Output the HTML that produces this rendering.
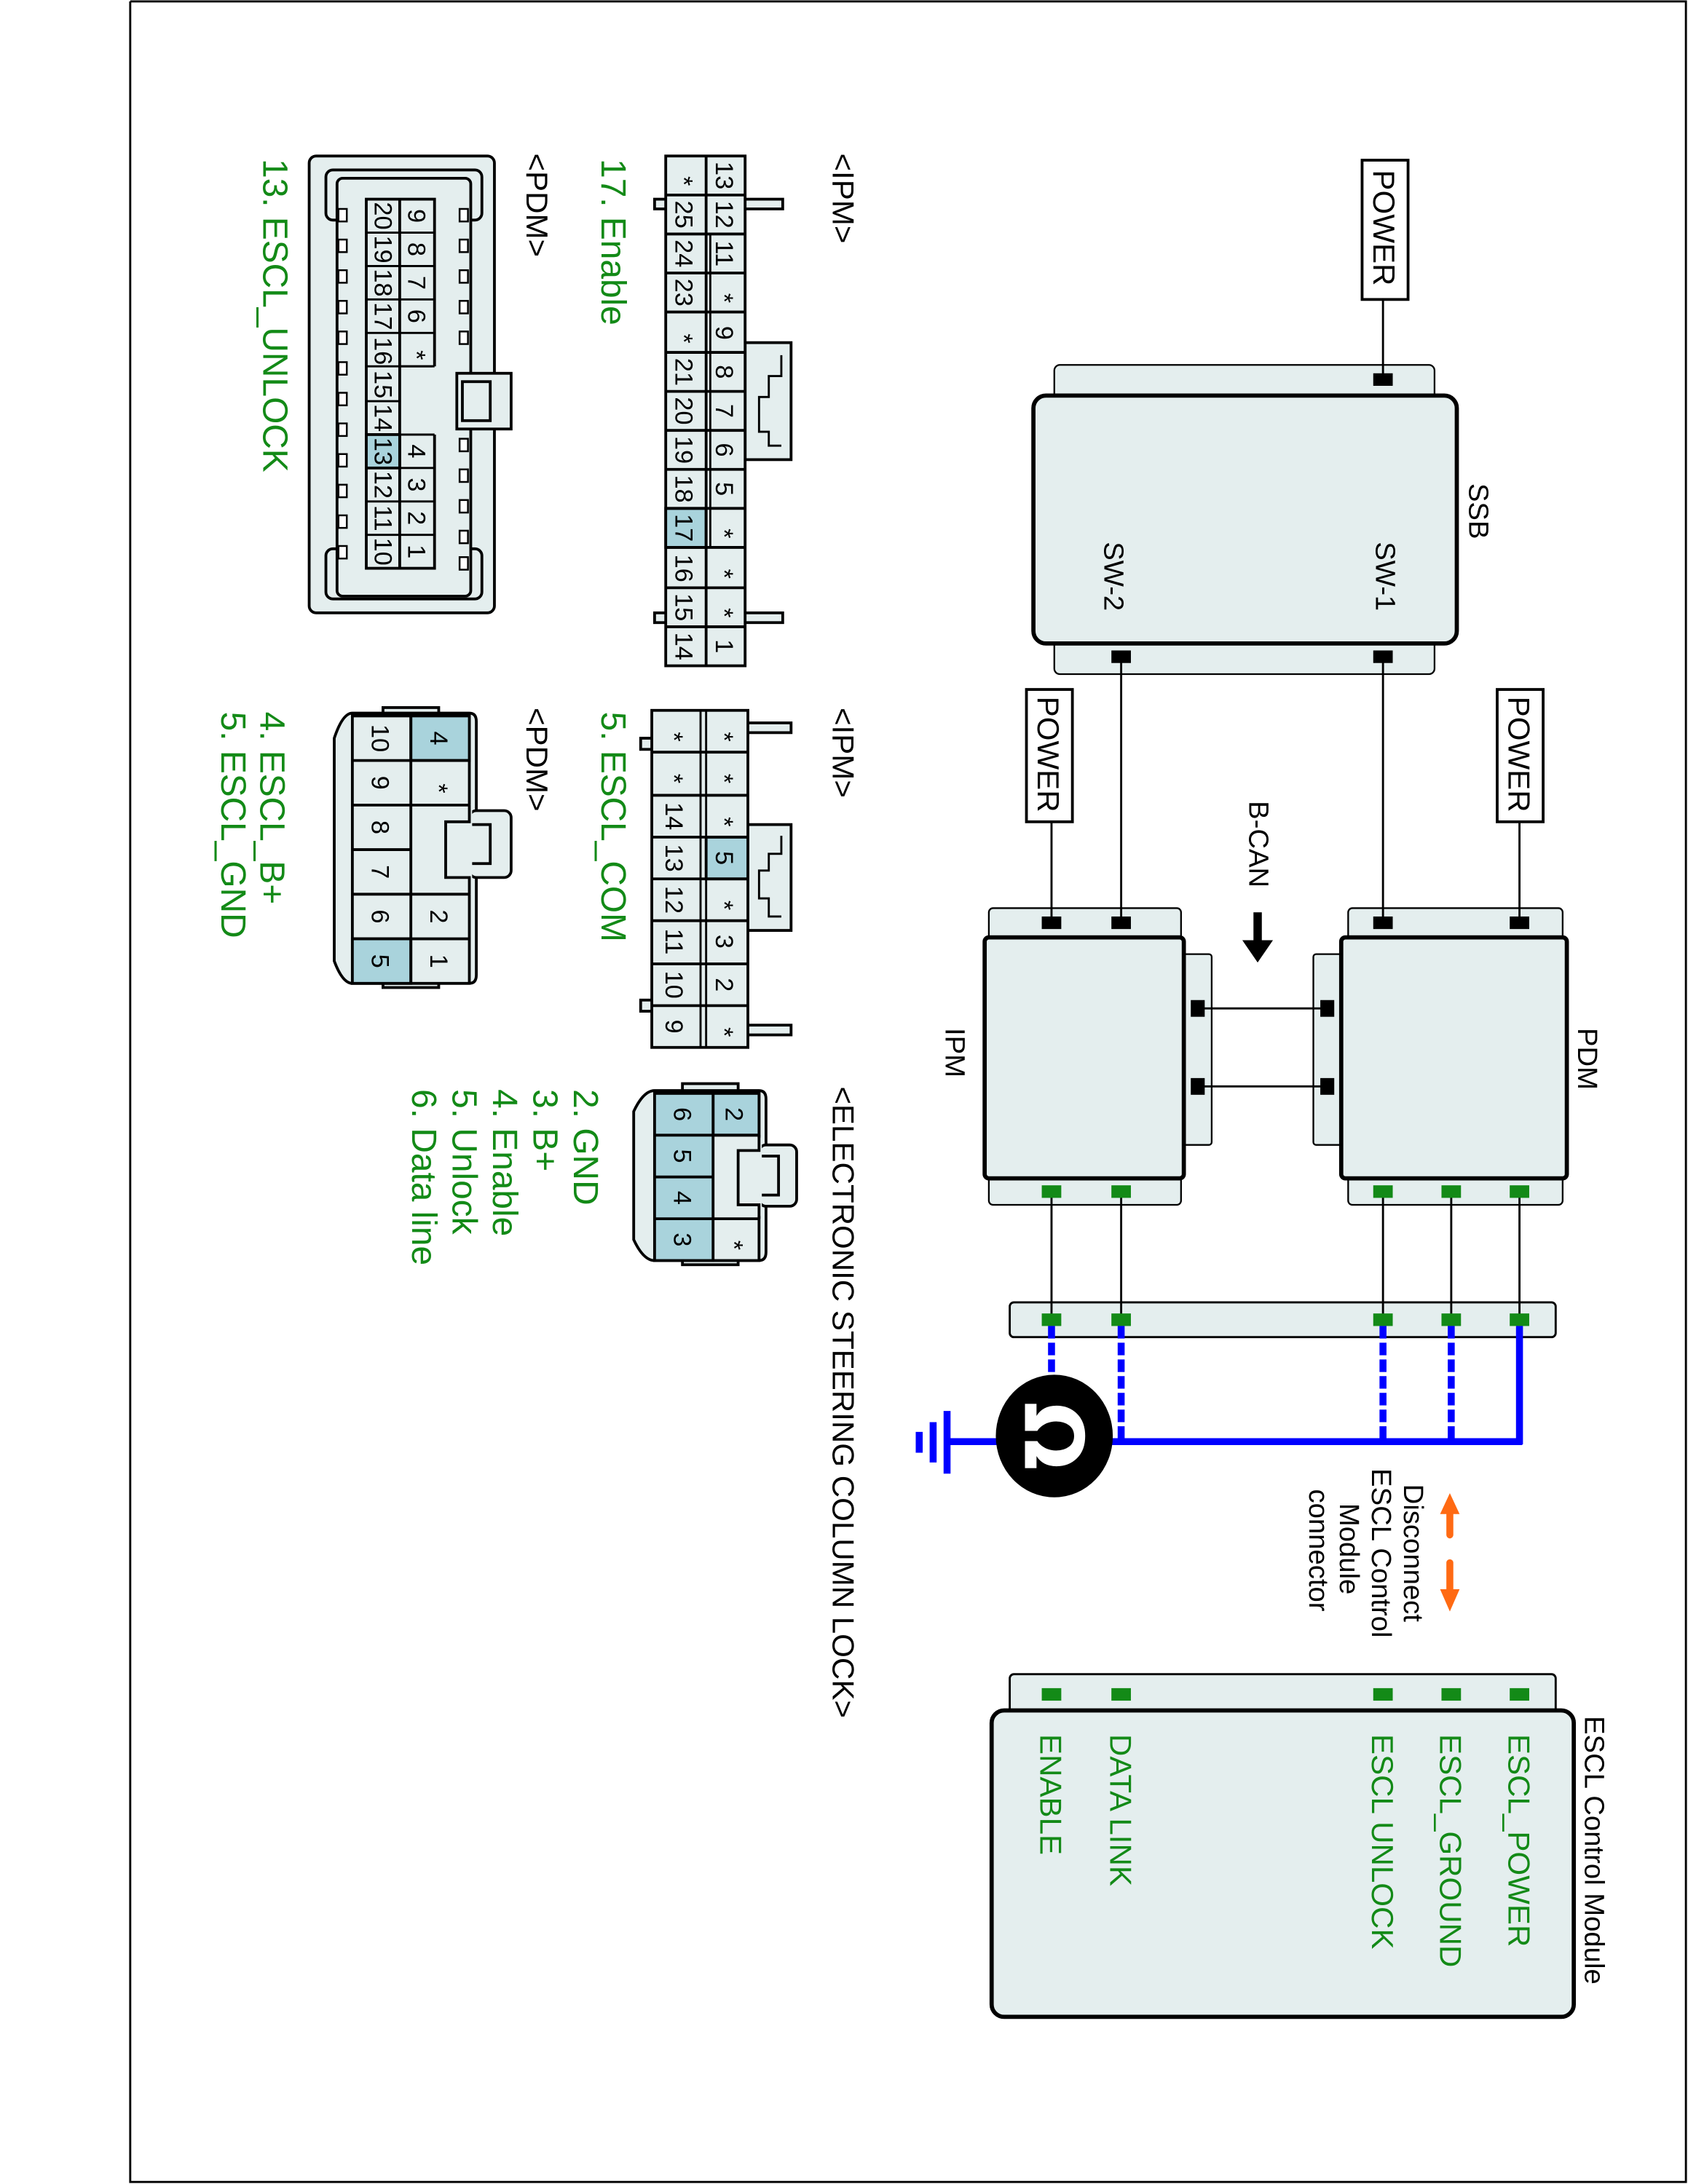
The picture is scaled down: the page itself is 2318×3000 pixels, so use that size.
<!DOCTYPE html>
<html><head><meta charset="utf-8">
<style>
html,body{margin:0;padding:0;background:#fff;}
svg{display:block;}
text{font-family:"Liberation Sans",Arial,sans-serif;}
.c{font-size:18px;fill:#000;text-anchor:middle;}
.g{fill:#138a17;font-size:25px;}
.k{fill:#000;font-size:22px;}
</style></head>
<body>
<svg width="2318" height="3000" viewBox="0 0 1212 1568" preserveAspectRatio="none" xmlns="http://www.w3.org/2000/svg">
<rect x="0" y="0" width="1212" height="1568" fill="#fff"/>
<path d="M93.5 1V1566.5H1210.5V1H93.5" fill="none" stroke="#000" stroke-width="1.5"/>

<g stroke="#000" fill="#e4eeee">
<rect x="757" y="262" width="273" height="222" rx="4" stroke-width="1.2"/>
<rect x="742" y="284" width="304" height="178" rx="9" stroke-width="3"/>
<rect x="968" y="652" width="154" height="213" rx="3" stroke-width="1.2"/>
<rect x="943" y="685" width="24" height="137" rx="2" stroke-width="1.2"/>
<rect x="963" y="673" width="162" height="173" rx="3" stroke-width="3"/>
<rect x="710" y="652" width="138" height="213" rx="3" stroke-width="1.2"/>
<rect x="846" y="685" width="24" height="137" rx="2" stroke-width="1.2"/>
<rect x="707" y="673" width="143" height="173" rx="3" stroke-width="3"/>
<rect x="725" y="935" width="392" height="25" rx="3" stroke-width="1.5"/>
<rect x="725" y="1202" width="392" height="30" rx="3" stroke-width="1.5"/>
<rect x="712" y="1228" width="418" height="220" rx="9" stroke-width="3"/>
</g>

<g stroke="#000" stroke-width="1.5" fill="none">
<line x1="993" y1="215" x2="993" y2="272"/>
<line x1="993" y1="471" x2="993" y2="662"/>
<line x1="805" y1="471" x2="805" y2="662"/>
<line x1="1091" y1="590" x2="1091" y2="662"/>
<line x1="755" y1="590" x2="755" y2="662"/>
<line x1="860" y1="724" x2="953" y2="724"/>
<line x1="860" y1="780" x2="953" y2="780"/>
<line x1="755" y1="855" x2="755" y2="947"/>
<line x1="805" y1="855" x2="805" y2="947"/>
<line x1="993" y1="855" x2="993" y2="947"/>
<line x1="1042" y1="855" x2="1042" y2="947"/>
<line x1="1091" y1="855" x2="1091" y2="947"/>
</g>
<g fill="#fff" stroke="#000" stroke-width="2">
<rect x="978" y="115" width="33" height="100"/>
<rect x="1075" y="495" width="33" height="95"/>
<rect x="737" y="495" width="33" height="95"/>
</g>
<g class="k" font-size="22">
<text transform="translate(986,122) rotate(90)">POWER</text>
<text transform="translate(1083,500) rotate(90)">POWER</text>
<text transform="translate(745,500) rotate(90)">POWER</text>
</g>
<g fill="#000">
<rect x="986" y="268" width="14" height="9"/>
<rect x="986" y="467" width="14" height="9"/>
<rect x="798" y="467" width="14" height="9"/>
<rect x="986" y="658" width="14" height="9"/>
<rect x="1084" y="658" width="14" height="9"/>
<rect x="748" y="658" width="14" height="9"/>
<rect x="798" y="658" width="14" height="9"/>
<rect x="948" y="718" width="10" height="12"/>
<rect x="948" y="774" width="10" height="12"/>
<rect x="855" y="718" width="10" height="12"/>
<rect x="855" y="774" width="10" height="12"/>
<rect x="900" y="655" width="6" height="22"/>
<polygon points="892,675 914,675 903,691"/>
</g>
<g fill="#138a17">
<rect x="748" y="851" width="14" height="9"/><rect x="798" y="851" width="14" height="9"/>
<rect x="986" y="851" width="14" height="9"/><rect x="1035" y="851" width="14" height="9"/><rect x="1084" y="851" width="14" height="9"/>
<rect x="748" y="943" width="14" height="9"/><rect x="798" y="943" width="14" height="9"/>
<rect x="986" y="943" width="14" height="9"/><rect x="1035" y="943" width="14" height="9"/><rect x="1084" y="943" width="14" height="9"/>
<rect x="748" y="1212" width="14" height="9"/><rect x="798" y="1212" width="14" height="9"/>
<rect x="986" y="1212" width="14" height="9"/><rect x="1035" y="1212" width="14" height="9"/><rect x="1084" y="1212" width="14" height="9"/>
</g>

<g class="k">
<text transform="translate(1055,347) rotate(90)" font-size="20">SSB</text>
<text transform="translate(988,389) rotate(90)" font-size="20">SW-1</text>
<text transform="translate(793,389) rotate(90)" font-size="20">SW-2</text>
<text transform="translate(897,575) rotate(90)" font-size="20">B-CAN</text>
<text transform="translate(1133,738) rotate(90)" font-size="20">PDM</text>
<text transform="translate(679,738) rotate(90)" font-size="20">IPM</text>
<text transform="translate(1138,1232) rotate(90)" font-size="20">ESCL Control Module</text>
<g font-size="20" text-anchor="middle">
<text transform="translate(1008,1115) rotate(90)">Disconnect</text>
<text transform="translate(985,1115) rotate(90)">ESCL Control</text>
<text transform="translate(962,1112) rotate(90)">Module</text>
<text transform="translate(940,1113) rotate(90)">connector</text>
</g>
</g>
<g class="g" style="font-size:22px">
<text transform="translate(1083,1245) rotate(90)">ESCL_POWER</text>
<text transform="translate(1034,1245) rotate(90)">ESCL_GROUND</text>
<text transform="translate(985,1245) rotate(90)">ESCL UNLOCK</text>
<text transform="translate(797,1245) rotate(90)">DATA LINK</text>
<text transform="translate(747,1245) rotate(90)">ENABLE</text>
</g>

<g stroke="#0000ff" stroke-width="5" fill="none">
<line x1="1091" y1="952" x2="1091" y2="1037"/>
<line x1="680" y1="1035" x2="1093" y2="1035"/>
<g stroke-dasharray="9,3">
<line x1="755" y1="952" x2="755" y2="1000"/>
<line x1="805" y1="952" x2="805" y2="1035"/>
<line x1="993" y1="952" x2="993" y2="1035"/>
<line x1="1042" y1="952" x2="1042" y2="1035"/>
</g>
<line x1="680" y1="1013" x2="680" y2="1058"/>
<line x1="670" y1="1021" x2="670" y2="1050"/>
<line x1="660" y1="1028" x2="660" y2="1043"/>
</g>
<ellipse cx="757" cy="1031" rx="42" ry="44" fill="#000"/>
<text transform="translate(736,1031) rotate(90)" text-anchor="middle" font-size="58" font-weight="bold" fill="#fff" style="font-family:'DejaVu Sans',sans-serif">Ω</text>
<g fill="#ff6a13" stroke="#ff6a13">
<line x1="1041" y1="1085" x2="1041" y2="1102" stroke-width="5" stroke-linecap="round"/>
<polygon points="1034,1087 1048,1087 1041,1072" stroke="none"/>
<line x1="1041" y1="1122" x2="1041" y2="1142" stroke-width="5" stroke-linecap="round"/>
<polygon points="1034,1141 1048,1141 1041,1157" stroke="none"/>
</g>

<!-- IPM conn1 -->
<g stroke="#000" stroke-width="2" fill="#e4eeee">
<rect x="470" y="143" width="92" height="7"/>
<rect x="470" y="440" width="92" height="7"/>
<rect x="535" y="246" width="33" height="84"/>
<rect x="478" y="112" width="57" height="366"/>
<rect x="478" y="365" width="29" height="28" fill="#a9d3dc"/>
<line x1="507" y1="112" x2="507" y2="478"/>
<line x1="510" y1="168" x2="510" y2="393" stroke-width="1.5"/>
<path d="M561,255 V270 H552 V285 H545 V310 H552 V320 H561" fill="none" stroke-width="1.5"/>
</g>
<g stroke="#000" stroke-width="2">
<line x1="478" y1="140" x2="535" y2="140"/><line x1="478" y1="168" x2="535" y2="168"/>
<line x1="478" y1="196" x2="535" y2="196"/><line x1="478" y1="224" x2="535" y2="224"/>
<line x1="478" y1="253" x2="535" y2="253"/><line x1="478" y1="281" x2="535" y2="281"/>
<line x1="478" y1="309" x2="535" y2="309"/><line x1="478" y1="337" x2="535" y2="337"/>
<line x1="478" y1="365" x2="535" y2="365"/><line x1="478" y1="393" x2="535" y2="393"/>
<line x1="478" y1="422" x2="535" y2="422"/><line x1="478" y1="450" x2="535" y2="450"/>
</g>
<g class="c">
<text transform="translate(514,126) rotate(90)">13</text><text transform="translate(514,154) rotate(90)">12</text>
<text transform="translate(514,182) rotate(90)">11</text><text transform="translate(514,214) rotate(90)">*</text>
<text transform="translate(514,239) rotate(90)">9</text><text transform="translate(514,267) rotate(90)">8</text>
<text transform="translate(514,295) rotate(90)">7</text><text transform="translate(514,323) rotate(90)">6</text>
<text transform="translate(514,351) rotate(90)">5</text><text transform="translate(514,383) rotate(90)">*</text>
<text transform="translate(514,412) rotate(90)">*</text><text transform="translate(514,440) rotate(90)">*</text>
<text transform="translate(514,464) rotate(90)">1</text>
<text transform="translate(485,130) rotate(90)">*</text><text transform="translate(485,154) rotate(90)">25</text>
<text transform="translate(485,182) rotate(90)">24</text><text transform="translate(485,210) rotate(90)">23</text>
<text transform="translate(485,243) rotate(90)">*</text><text transform="translate(485,267) rotate(90)">21</text>
<text transform="translate(485,295) rotate(90)">20</text><text transform="translate(485,323) rotate(90)">19</text>
<text transform="translate(485,351) rotate(90)">18</text><text transform="translate(485,379) rotate(90)">17</text>
<text transform="translate(485,408) rotate(90)">16</text><text transform="translate(485,436) rotate(90)">15</text>
<text transform="translate(485,464) rotate(90)">14</text>
</g>

<!-- PDM conn1 -->
<g stroke="#000" stroke-width="2" fill="#e4eeee">
<rect x="222" y="112" width="133" height="328" rx="5"/>
<rect x="234" y="122" width="112" height="36" rx="5"/>
<rect x="234" y="394" width="112" height="36" rx="5"/>
<rect x="242" y="128" width="96" height="300" rx="4"/>
<rect x="328" y="268" width="39" height="40"/>
<rect x="332" y="274" width="20" height="28"/>
<rect x="263" y="143" width="49" height="265"/>
<rect x="263" y="312" width="24" height="24" fill="#a9d3dc"/>
<rect x="287" y="263" width="25" height="49" fill="#e4eeee" stroke="none"/>
<line x1="287" y1="143" x2="287" y2="408"/>
</g>
<g stroke="#000" stroke-width="1.5" fill="#fff">
<line x1="263" y1="167" x2="312" y2="167"/><line x1="263" y1="191" x2="312" y2="191"/>
<line x1="263" y1="215" x2="312" y2="215"/><line x1="263" y1="239" x2="312" y2="239"/>
<line x1="263" y1="263" x2="312" y2="263"/><line x1="263" y1="288" x2="287" y2="288"/>
<line x1="263" y1="312" x2="312" y2="312"/><line x1="263" y1="336" x2="312" y2="336"/>
<line x1="263" y1="360" x2="312" y2="360"/><line x1="263" y1="384" x2="312" y2="384"/>
<line x1="312" y1="263" x2="312" y2="312" stroke="#e4eeee" stroke-width="3"/>
<line x1="287" y1="263" x2="312" y2="263"/><line x1="287" y1="312" x2="312" y2="312"/>
<g stroke-width="1.3">
<rect x="243" y="150" width="6" height="9"/><rect x="243" y="172" width="6" height="9"/><rect x="243" y="194" width="6" height="9"/>
<rect x="243" y="216" width="6" height="9"/><rect x="243" y="238" width="6" height="9"/><rect x="243" y="260" width="6" height="9"/>
<rect x="243" y="282" width="6" height="9"/><rect x="243" y="304" width="6" height="9"/><rect x="243" y="326" width="6" height="9"/>
<rect x="243" y="348" width="6" height="9"/><rect x="243" y="370" width="6" height="9"/><rect x="243" y="392" width="6" height="9"/>
<rect x="330" y="150" width="6" height="9"/><rect x="330" y="172" width="6" height="9"/><rect x="330" y="194" width="6" height="9"/>
<rect x="330" y="216" width="6" height="9"/><rect x="330" y="238" width="6" height="9"/>
<rect x="330" y="315" width="6" height="9"/><rect x="330" y="337" width="6" height="9"/><rect x="330" y="359" width="6" height="9"/>
<rect x="330" y="381" width="6" height="9"/><rect x="330" y="400" width="6" height="9"/>
</g>
</g>
<g class="c" font-size="17">
<text transform="translate(293,155) rotate(90)">9</text><text transform="translate(293,179) rotate(90)">8</text>
<text transform="translate(293,203) rotate(90)">7</text><text transform="translate(293,227) rotate(90)">6</text>
<text transform="translate(293,255) rotate(90)">*</text>
<text transform="translate(293,324) rotate(90)">4</text><text transform="translate(293,348) rotate(90)">3</text>
<text transform="translate(293,372) rotate(90)">2</text><text transform="translate(293,396) rotate(90)">1</text>
<text transform="translate(269,155) rotate(90)">20</text><text transform="translate(269,179) rotate(90)">19</text>
<text transform="translate(269,203) rotate(90)">18</text><text transform="translate(269,227) rotate(90)">17</text>
<text transform="translate(269,252) rotate(90)">16</text><text transform="translate(269,276) rotate(90)">15</text>
<text transform="translate(269,300) rotate(90)">14</text><text transform="translate(269,324) rotate(90)">13</text>
<text transform="translate(269,348) rotate(90)">12</text><text transform="translate(269,372) rotate(90)">11</text>
<text transform="translate(269,396) rotate(90)">10</text>
</g>

<!-- IPM conn2 -->
<g stroke="#000" stroke-width="2" fill="#e4eeee">
<rect x="535" y="519" width="33" height="7"/>
<rect x="535" y="736" width="33" height="7"/>
<rect x="460" y="530" width="9" height="8"/>
<rect x="460" y="718" width="9" height="8"/>
<rect x="537" y="592" width="31" height="76"/>
<path d="M561,600 V613 H552 V625 H545 V645 H552 V658 H561" fill="none" stroke-width="1.5"/>
<rect x="468" y="510" width="69" height="242"/>
<rect x="507" y="601" width="30" height="30" fill="#a9d3dc"/>
<line x1="503" y1="510" x2="503" y2="752" stroke-width="1.5"/>
<line x1="507" y1="510" x2="507" y2="752" stroke-width="1.5"/>
<line x1="468" y1="540" x2="537" y2="540"/><line x1="468" y1="571" x2="537" y2="571"/>
<line x1="468" y1="601" x2="537" y2="601"/><line x1="468" y1="631" x2="537" y2="631"/>
<line x1="468" y1="661" x2="537" y2="661"/><line x1="468" y1="692" x2="537" y2="692"/>
<line x1="468" y1="722" x2="537" y2="722"/>
</g>
<g class="c" font-size="19">
<text transform="translate(514,529) rotate(90)">*</text><text transform="translate(514,559) rotate(90)">*</text>
<text transform="translate(514,590) rotate(90)">*</text><text transform="translate(514,616) rotate(90)">5</text>
<text transform="translate(514,650) rotate(90)">*</text><text transform="translate(514,676) rotate(90)">3</text>
<text transform="translate(514,707) rotate(90)">2</text><text transform="translate(514,741) rotate(90)">*</text>
<text transform="translate(478,529) rotate(90)">*</text><text transform="translate(478,559) rotate(90)">*</text>
<text transform="translate(478,586) rotate(90)">14</text><text transform="translate(478,616) rotate(90)">13</text>
<text transform="translate(478,646) rotate(90)">12</text><text transform="translate(478,676) rotate(90)">11</text>
<text transform="translate(478,707) rotate(90)">10</text><text transform="translate(478,737) rotate(90)">9</text>
</g>

<!-- PDM conn2 -->
<g stroke="#000" stroke-width="2" fill="#e4eeee">
<rect x="275" y="508" width="40" height="6"/>
<rect x="275" y="703" width="40" height="6"/>
<path d="M253,512 H337 Q342,512 342,518 V700 Q342,706 337,706 H253 Q246,706 240,690 V530 Q246,512 253,512 Z"/>
<rect x="337" y="582" width="30" height="48" rx="5"/>
<rect x="337" y="592" width="15" height="28"/>
<rect x="253" y="514" width="84" height="192"/>
<rect x="295" y="514" width="42" height="32" fill="#a9d3dc"/>
<rect x="253" y="674" width="42" height="32" fill="#a9d3dc"/>
<rect x="297" y="578" width="42" height="64" fill="#e4eeee" stroke="none"/>
<line x1="295" y1="514" x2="295" y2="706"/>
<line x1="253" y1="546" x2="337" y2="546"/><line x1="253" y1="578" x2="337" y2="578"/>
<line x1="253" y1="610" x2="295" y2="610"/><line x1="253" y1="642" x2="337" y2="642"/>
<line x1="253" y1="674" x2="337" y2="674"/>
<path d="M337,578 V590 H320 V630 H337 V642" fill="none"/>
</g>
<g class="c" font-size="19">
<text transform="translate(309,530) rotate(90)">4</text><text transform="translate(309,566) rotate(90)">*</text>
<text transform="translate(309,658) rotate(90)">2</text><text transform="translate(309,690) rotate(90)">1</text>
<text transform="translate(267,530) rotate(90)">10</text><text transform="translate(267,562) rotate(90)">9</text>
<text transform="translate(267,594) rotate(90)">8</text><text transform="translate(267,626) rotate(90)">7</text>
<text transform="translate(267,658) rotate(90)">6</text><text transform="translate(267,690) rotate(90)">5</text>
</g>

<!-- ESCL conn -->
<g stroke="#000" stroke-width="2" fill="#e4eeee">
<rect x="490" y="778" width="40" height="6"/>
<rect x="490" y="902" width="40" height="6"/>
<path d="M470,783 H545 Q550,783 550,789 V899 Q550,905 545,905 H470 Q462,905 455,890 V798 Q462,783 470,783 Z"/>
<rect x="545" y="822" width="27" height="44" rx="5"/>
<rect x="545" y="830" width="14" height="28"/>
<rect x="470" y="785" width="75" height="120"/>
<rect x="512" y="785" width="33" height="30" fill="#a9d3dc"/>
<rect x="470" y="785" width="42" height="120" fill="#a9d3dc"/>
<rect x="514" y="817" width="33" height="56" fill="#e4eeee" stroke="none"/>
<line x1="470" y1="815" x2="545" y2="815"/><line x1="470" y1="845" x2="512" y2="845"/>
<line x1="470" y1="875" x2="545" y2="875"/>
<path d="M545,815 V826 H530 V865 H545 V875" fill="none"/>
</g>
<g class="c" font-size="19">
<text transform="translate(521,800) rotate(90)">2</text><text transform="translate(521,894) rotate(90)">*</text>
<text transform="translate(484,800) rotate(90)">6</text><text transform="translate(484,830) rotate(90)">5</text>
<text transform="translate(484,860) rotate(90)">4</text><text transform="translate(484,890) rotate(90)">3</text>
</g>

<g class="k" font-size="21">
<text transform="translate(598,110) rotate(90)">&lt;IPM&gt;</text>
<text transform="translate(598,508) rotate(90)">&lt;IPM&gt;</text>
<text transform="translate(378,110) rotate(90)">&lt;PDM&gt;</text>
<text transform="translate(378,508) rotate(90)">&lt;PDM&gt;</text>
<text transform="translate(598,780) rotate(90)">&lt;ELECTRONIC STEERING COLUMN LOCK&gt;</text>
</g>
<g class="g">
<text transform="translate(432,114) rotate(90)">17. Enable</text>
<text transform="translate(432,511) rotate(90)">5. ESCL_COM</text>
<text transform="translate(189,114) rotate(90)">13. ESCL_UNLOCK</text>
<text transform="translate(187,511) rotate(90)">4. ESCL_B+</text>
<text transform="translate(159,511) rotate(90)">5. ESCL_GND</text>
<text transform="translate(412,782) rotate(90)">2. GND</text>
<text transform="translate(383,782) rotate(90)">3. B+</text>
<text transform="translate(354,782) rotate(90)">4. Enable</text>
<text transform="translate(325,782) rotate(90)">5. Unlock</text>
<text transform="translate(296,782) rotate(90)">6. Data line</text>
</g>
</svg>
</body></html>
